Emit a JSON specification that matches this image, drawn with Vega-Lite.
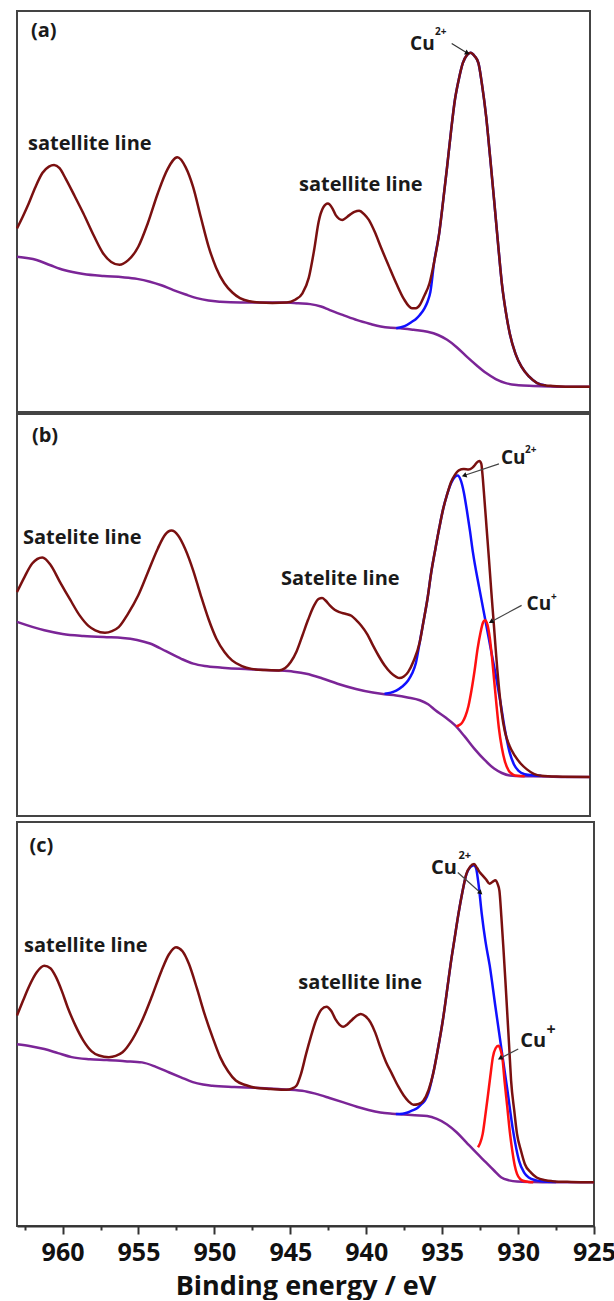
{
  "$schema": "https://vega.github.io/schema/vega-lite/v6.json",
  "padding": {"left": 11, "top": 10, "right": 2, "bottom": 0},
  "background": "white",
  "config": {
    "view": {"stroke": "#444444", "strokeWidth": 2},
    "font": "Open Sans",
    "text": {"font": "Open Sans"}
  },
  "datasets": {
    "a": [
      {"s":"env","E":963.0,"I":45.8},{"s":"env","E":962.6,"I":48.9},{"s":"env","E":962.23,"I":52.0},{"s":"env","E":961.8,"I":56.0},{"s":"env","E":961.33,"I":59.6},{"s":"env","E":960.9,"I":61.2},{"s":"env","E":960.56,"I":61.6},{"s":"env","E":960.2,"I":60.8},{"s":"env","E":959.8,"I":58.2},{"s":"env","E":959.2,"I":53.8},{"s":"env","E":958.63,"I":49.5},{"s":"env","E":957.95,"I":44.0},{"s":"env","E":957.34,"I":39.6},{"s":"env","E":956.8,"I":37.4},{"s":"env","E":956.26,"I":36.7},{"s":"env","E":955.7,"I":37.8},{"s":"env","E":955.02,"I":41.2},{"s":"env","E":954.4,"I":47.0},{"s":"env","E":953.74,"I":54.5},{"s":"env","E":953.1,"I":60.5},{"s":"env","E":952.45,"I":63.5},{"s":"env","E":951.9,"I":61.0},{"s":"env","E":951.42,"I":56.2},{"s":"env","E":950.9,"I":48.5},{"s":"env","E":950.39,"I":41.2},{"s":"env","E":949.9,"I":36.0},{"s":"env","E":949.36,"I":32.1},{"s":"env","E":948.83,"I":29.8},{"s":"env","E":948.33,"I":28.4},{"s":"env","E":947.7,"I":27.6},{"s":"env","E":947.05,"I":27.3},{"s":"env","E":946.2,"I":27.2},{"s":"env","E":945.25,"I":27.3},{"s":"env","E":944.7,"I":28.0},{"s":"env","E":944.22,"I":29.6},{"s":"env","E":943.8,"I":33.5},{"s":"env","E":943.45,"I":40.4},{"s":"env","E":943.15,"I":47.5},{"s":"env","E":942.85,"I":51.0},{"s":"env","E":942.55,"I":52.0},{"s":"env","E":942.25,"I":50.8},{"s":"env","E":942.03,"I":49.1},{"s":"env","E":941.6,"I":47.9},{"s":"env","E":941.13,"I":49.1},{"s":"env","E":940.8,"I":49.9},{"s":"env","E":940.49,"I":50.2},{"s":"env","E":940.15,"I":49.3},{"s":"env","E":939.85,"I":47.9},{"s":"env","E":939.45,"I":44.8},{"s":"env","E":939.07,"I":41.2},{"s":"env","E":938.55,"I":36.5},{"s":"env","E":938.05,"I":32.1},{"s":"env","E":937.55,"I":28.2},{"s":"env","E":937.02,"I":25.9},{"s":"env","E":936.75,"I":25.9},{"s":"env","E":936.5,"I":26.7},{"s":"env","E":936.2,"I":29.0},{"s":"env","E":935.86,"I":32.1},{"s":"env","E":935.55,"I":37.5},{"s":"env","E":935.22,"I":44.6},{"s":"env","E":934.95,"I":53.0},{"s":"env","E":934.7,"I":61.2},{"s":"env","E":934.45,"I":69.8},{"s":"env","E":934.19,"I":77.8},{"s":"env","E":933.93,"I":83.0},{"s":"env","E":933.67,"I":87.0},{"s":"env","E":933.4,"I":89.0},{"s":"env","E":933.16,"I":89.6},{"s":"env","E":932.9,"I":88.8},{"s":"env","E":932.64,"I":87.0},{"s":"env","E":932.4,"I":81.5},{"s":"env","E":932.13,"I":73.6},{"s":"env","E":931.87,"I":63.5},{"s":"env","E":931.61,"I":52.9},{"s":"env","E":931.35,"I":42.0},{"s":"env","E":931.1,"I":32.1},{"s":"env","E":930.84,"I":25.0},{"s":"env","E":930.58,"I":19.6},{"s":"env","E":930.2,"I":14.5},{"s":"env","E":929.81,"I":11.3},{"s":"env","E":929.3,"I":8.8},{"s":"env","E":928.78,"I":7.2},{"s":"env","E":928.2,"I":6.6},{"s":"env","E":927.75,"I":6.5},{"s":"env","E":926.5,"I":6.3},{"s":"env","E":925.3,"I":6.3},
      {"s":"bg","E":963.0,"I":38.7},{"s":"bg","E":961.71,"I":37.9},{"s":"bg","E":960.8,"I":36.6},{"s":"bg","E":959.91,"I":35.4},{"s":"bg","E":958.63,"I":34.4},{"s":"bg","E":957.3,"I":33.9},{"s":"bg","E":956.05,"I":33.6},{"s":"bg","E":955.1,"I":33.2},{"s":"bg","E":954.25,"I":32.5},{"s":"bg","E":953.5,"I":31.6},{"s":"bg","E":952.71,"I":30.4},{"s":"bg","E":951.9,"I":29.3},{"s":"bg","E":951.17,"I":28.4},{"s":"bg","E":950.4,"I":27.8},{"s":"bg","E":949.62,"I":27.5},{"s":"bg","E":948.3,"I":27.3},{"s":"bg","E":947.05,"I":27.3},{"s":"bg","E":945.25,"I":27.3},{"s":"bg","E":944.5,"I":27.1},{"s":"bg","E":943.71,"I":26.9},{"s":"bg","E":943.0,"I":26.3},{"s":"bg","E":942.42,"I":25.4},{"s":"bg","E":941.5,"I":24.1},{"s":"bg","E":940.62,"I":22.9},{"s":"bg","E":939.8,"I":22.0},{"s":"bg","E":939.07,"I":21.3},{"s":"bg","E":938.4,"I":21.0},{"s":"bg","E":937.79,"I":20.9},{"s":"bg","E":936.9,"I":20.5},{"s":"bg","E":935.99,"I":20.0},{"s":"bg","E":935.3,"I":19.2},{"s":"bg","E":934.7,"I":18.0},{"s":"bg","E":934.05,"I":16.1},{"s":"bg","E":933.41,"I":13.8},{"s":"bg","E":932.75,"I":11.6},{"s":"bg","E":932.13,"I":9.7},{"s":"bg","E":931.5,"I":8.2},{"s":"bg","E":930.84,"I":7.2},{"s":"bg","E":930.0,"I":6.7},{"s":"bg","E":929.04,"I":6.5},{"s":"bg","E":927.0,"I":6.3},{"s":"bg","E":925.3,"I":6.3},
      {"s":"cu2","E":938.05,"I":20.9},{"s":"cu2","E":937.5,"I":21.4},{"s":"cu2","E":937.02,"I":22.5},{"s":"cu2","E":936.75,"I":23.2},{"s":"cu2","E":936.5,"I":24.2},{"s":"cu2","E":936.2,"I":25.8},{"s":"cu2","E":935.99,"I":27.5},{"s":"cu2","E":935.8,"I":30.0},{"s":"cu2","E":935.55,"I":37.5},{"s":"cu2","E":935.22,"I":44.6},{"s":"cu2","E":934.95,"I":53.0},{"s":"cu2","E":934.7,"I":61.2},{"s":"cu2","E":934.45,"I":69.8},{"s":"cu2","E":934.19,"I":77.8},{"s":"cu2","E":933.93,"I":83.0},{"s":"cu2","E":933.67,"I":87.0},{"s":"cu2","E":933.4,"I":89.0},{"s":"cu2","E":933.16,"I":89.6},{"s":"cu2","E":932.9,"I":88.8},{"s":"cu2","E":932.64,"I":87.0},{"s":"cu2","E":932.4,"I":81.5},{"s":"cu2","E":932.13,"I":73.6},{"s":"cu2","E":931.87,"I":63.5},{"s":"cu2","E":931.61,"I":52.9},{"s":"cu2","E":931.35,"I":42.0},{"s":"cu2","E":931.1,"I":32.1},{"s":"cu2","E":930.84,"I":25.0},{"s":"cu2","E":930.58,"I":19.6},{"s":"cu2","E":930.2,"I":14.5},{"s":"cu2","E":929.81,"I":11.3},{"s":"cu2","E":929.3,"I":8.8},{"s":"cu2","E":928.78,"I":7.2},{"s":"cu2","E":928.2,"I":6.6}
    ],
    "aT": [
      {"E":962.08,"I":93.4,"t":"(a)","k":"lab"},
      {"E":962.28,"I":65.3,"t":"satellite line","k":"lab"},
      {"E":944.45,"I":55.1,"t":"satellite line","k":"lab"},
      {"E":937.14,"I":90.3,"t":"Cu","k":"cu"},
      {"E":935.5,"I":93.9,"t":"2+","k":"sup"}
    ],
    "aA": [{"E":934.4,"I":91.9,"E2":933.41,"I2":89.6}],
    "aH": [{"E":933.41,"I":89.6}],
    "b": [
      {"s":"env","E":963.0,"I":55.7},{"s":"env","E":962.5,"I":59.5},{"s":"env","E":962.0,"I":62.8},{"s":"env","E":961.33,"I":64.3},{"s":"env","E":960.8,"I":62.5},{"s":"env","E":960.17,"I":58.2},{"s":"env","E":959.5,"I":53.8},{"s":"env","E":958.88,"I":49.9},{"s":"env","E":958.3,"I":47.3},{"s":"env","E":957.85,"I":46.2},{"s":"env","E":957.21,"I":45.6},{"s":"env","E":956.75,"I":46.0},{"s":"env","E":956.31,"I":47.0},{"s":"env","E":955.7,"I":50.3},{"s":"env","E":955.02,"I":54.9},{"s":"env","E":954.4,"I":60.5},{"s":"env","E":953.74,"I":66.5},{"s":"env","E":953.25,"I":70.0},{"s":"env","E":952.84,"I":71.0},{"s":"env","E":952.4,"I":69.8},{"s":"env","E":951.94,"I":66.5},{"s":"env","E":951.4,"I":61.0},{"s":"env","E":950.91,"I":54.9},{"s":"env","E":950.4,"I":49.0},{"s":"env","E":949.88,"I":44.1},{"s":"env","E":949.35,"I":40.8},{"s":"env","E":948.85,"I":38.7},{"s":"env","E":948.2,"I":37.3},{"s":"env","E":947.56,"I":36.6},{"s":"env","E":946.7,"I":36.3},{"s":"env","E":945.76,"I":36.2},{"s":"env","E":945.35,"I":36.8},{"s":"env","E":944.99,"I":38.3},{"s":"env","E":944.6,"I":41.0},{"s":"env","E":944.22,"I":44.9},{"s":"env","E":943.85,"I":48.8},{"s":"env","E":943.45,"I":52.4},{"s":"env","E":943.15,"I":54.0},{"s":"env","E":942.93,"I":54.2},{"s":"env","E":942.7,"I":53.6},{"s":"env","E":942.42,"I":52.4},{"s":"env","E":942.1,"I":51.3},{"s":"env","E":941.78,"I":50.7},{"s":"env","E":941.4,"I":50.3},{"s":"env","E":941.0,"I":49.8},{"s":"env","E":940.7,"I":48.8},{"s":"env","E":940.36,"I":47.4},{"s":"env","E":939.95,"I":45.2},{"s":"env","E":939.59,"I":42.5},{"s":"env","E":939.2,"I":39.8},{"s":"env","E":938.82,"I":37.5},{"s":"env","E":938.4,"I":35.6},{"s":"env","E":938.05,"I":34.6},{"s":"env","E":937.84,"I":34.3},{"s":"env","E":937.55,"I":34.7},{"s":"env","E":937.27,"I":35.8},{"s":"env","E":936.9,"I":38.6},{"s":"env","E":936.5,"I":43.3},{"s":"env","E":936.25,"I":48.5},{"s":"env","E":935.99,"I":54.1},{"s":"env","E":935.75,"I":60.5},{"s":"env","E":935.47,"I":66.5},{"s":"env","E":935.2,"I":72.0},{"s":"env","E":934.96,"I":76.4},{"s":"env","E":934.7,"I":80.0},{"s":"env","E":934.44,"I":83.1},{"s":"env","E":934.2,"I":84.8},{"s":"env","E":933.93,"I":86.0},{"s":"env","E":933.6,"I":86.3},{"s":"env","E":933.29,"I":86.2},{"s":"env","E":933.05,"I":86.6},{"s":"env","E":932.9,"I":87.2},{"s":"env","E":932.75,"I":87.9},{"s":"env","E":932.58,"I":88.3},{"s":"env","E":932.45,"I":87.6},{"s":"env","E":932.39,"I":85.6},{"s":"env","E":932.25,"I":79.0},{"s":"env","E":932.1,"I":71.5},{"s":"env","E":931.95,"I":64.0},{"s":"env","E":931.8,"I":56.2},{"s":"env","E":931.65,"I":48.8},{"s":"env","E":931.5,"I":41.3},{"s":"env","E":931.4,"I":36.5},{"s":"env","E":931.28,"I":31.5},{"s":"env","E":931.12,"I":26.0},{"s":"env","E":930.9,"I":21.0},{"s":"env","E":930.6,"I":17.5},{"s":"env","E":930.25,"I":15.0},{"s":"env","E":929.85,"I":13.0},{"s":"env","E":929.45,"I":11.6},{"s":"env","E":929.0,"I":10.5},{"s":"env","E":928.5,"I":10.0},{"s":"env","E":927.5,"I":9.8},{"s":"env","E":925.3,"I":9.7},
      {"s":"bg","E":963.0,"I":48.3},{"s":"bg","E":961.2,"I":46.2},{"s":"bg","E":960.0,"I":45.3},{"s":"bg","E":958.63,"I":44.8},{"s":"bg","E":957.3,"I":44.5},{"s":"bg","E":956.05,"I":44.3},{"s":"bg","E":955.1,"I":43.8},{"s":"bg","E":954.25,"I":42.9},{"s":"bg","E":953.2,"I":41.0},{"s":"bg","E":952.19,"I":39.1},{"s":"bg","E":951.4,"I":37.9},{"s":"bg","E":950.65,"I":37.3},{"s":"bg","E":949.5,"I":36.9},{"s":"bg","E":948.33,"I":36.6},{"s":"bg","E":947.0,"I":36.4},{"s":"bg","E":945.76,"I":36.2},{"s":"bg","E":944.8,"I":35.9},{"s":"bg","E":943.96,"I":35.4},{"s":"bg","E":942.9,"I":34.2},{"s":"bg","E":941.91,"I":32.9},{"s":"bg","E":940.7,"I":31.6},{"s":"bg","E":939.59,"I":30.7},{"s":"bg","E":938.82,"I":30.3},{"s":"bg","E":938.05,"I":30.0},{"s":"bg","E":937.3,"I":29.5},{"s":"bg","E":936.5,"I":28.8},{"s":"bg","E":935.95,"I":27.8},{"s":"bg","E":935.47,"I":26.3},{"s":"bg","E":934.8,"I":24.5},{"s":"bg","E":934.19,"I":22.6},{"s":"bg","E":933.55,"I":19.8},{"s":"bg","E":932.9,"I":16.7},{"s":"bg","E":932.25,"I":14.0},{"s":"bg","E":931.61,"I":11.8},{"s":"bg","E":931.1,"I":10.7},{"s":"bg","E":930.58,"I":10.1},{"s":"bg","E":929.8,"I":9.9},{"s":"bg","E":929.04,"I":9.9},{"s":"bg","E":927.0,"I":9.7},{"s":"bg","E":925.3,"I":9.7},
      {"s":"cu2","E":938.82,"I":30.4},{"s":"cu2","E":938.4,"I":30.7},{"s":"cu2","E":938.05,"I":31.2},{"s":"cu2","E":937.65,"I":32.2},{"s":"cu2","E":937.27,"I":33.7},{"s":"cu2","E":937.0,"I":35.5},{"s":"cu2","E":936.76,"I":38.0},{"s":"cu2","E":936.5,"I":43.3},{"s":"cu2","E":936.25,"I":48.5},{"s":"cu2","E":935.99,"I":54.1},{"s":"cu2","E":935.75,"I":60.5},{"s":"cu2","E":935.47,"I":66.5},{"s":"cu2","E":935.2,"I":72.0},{"s":"cu2","E":934.96,"I":76.4},{"s":"cu2","E":934.7,"I":80.0},{"s":"cu2","E":934.44,"I":82.8},{"s":"cu2","E":934.2,"I":84.3},{"s":"cu2","E":934.01,"I":84.7},{"s":"cu2","E":933.8,"I":83.5},{"s":"cu2","E":933.6,"I":80.5},{"s":"cu2","E":933.4,"I":76.0},{"s":"cu2","E":933.2,"I":71.0},{"s":"cu2","E":933.0,"I":65.5},{"s":"cu2","E":932.6,"I":57.0},{"s":"cu2","E":932.2,"I":49.0},{"s":"cu2","E":931.8,"I":41.0},{"s":"cu2","E":931.5,"I":35.0},{"s":"cu2","E":931.2,"I":28.5},{"s":"cu2","E":930.9,"I":21.5},{"s":"cu2","E":930.6,"I":16.0},{"s":"cu2","E":930.3,"I":12.8},{"s":"cu2","E":930.0,"I":11.2},{"s":"cu2","E":929.6,"I":10.4},{"s":"cu2","E":929.0,"I":10.1},{"s":"cu2","E":928.5,"I":10.0},
      {"s":"cu1","E":934.1,"I":22.3},{"s":"cu1","E":933.9,"I":22.6},{"s":"cu1","E":933.7,"I":23.3},{"s":"cu1","E":933.5,"I":24.8},{"s":"cu1","E":933.3,"I":27.3},{"s":"cu1","E":933.1,"I":31.2},{"s":"cu1","E":932.9,"I":36.0},{"s":"cu1","E":932.7,"I":41.5},{"s":"cu1","E":932.5,"I":45.7},{"s":"cu1","E":932.35,"I":48.0},{"s":"cu1","E":932.21,"I":48.7},{"s":"cu1","E":932.05,"I":47.6},{"s":"cu1","E":931.9,"I":44.5},{"s":"cu1","E":931.75,"I":39.5},{"s":"cu1","E":931.6,"I":33.5},{"s":"cu1","E":931.45,"I":27.5},{"s":"cu1","E":931.3,"I":22.0},{"s":"cu1","E":931.1,"I":17.0},{"s":"cu1","E":930.9,"I":13.6},{"s":"cu1","E":930.65,"I":11.3},{"s":"cu1","E":930.4,"I":10.4},{"s":"cu1","E":930.1,"I":10.0},{"s":"cu1","E":929.6,"I":9.9}
    ],
    "bT": [
      {"E":962.02,"I":93.0,"t":"(b)","k":"lab"},
      {"E":962.61,"I":67.7,"t":"Satelite line","k":"lab"},
      {"E":945.63,"I":57.4,"t":"Satelite line","k":"lab"},
      {"E":931.16,"I":87.6,"t":"Cu","k":"cu"},
      {"E":929.58,"I":90.3,"t":"2+","k":"sup"},
      {"E":929.47,"I":51.2,"t":"Cu","k":"cu"},
      {"E":927.87,"I":53.7,"t":"+","k":"sup"}
    ],
    "bA": [
      {"E":931.29,"I":87.6,"E2":933.53,"I2":84.75},
      {"E":929.8,"I":52.4,"E2":931.77,"I2":48.4}
    ],
    "bH": [
      {"id":"cu2","E":933.53,"I":84.75},
      {"id":"cu1","E":931.77,"I":48.4}
    ],
    "c": [
      {"s":"env","E":963.0,"I":52.1},{"s":"env","E":962.6,"I":55.8},{"s":"env","E":962.23,"I":59.1},{"s":"env","E":961.7,"I":62.8},{"s":"env","E":961.2,"I":64.4},{"s":"env","E":960.8,"I":63.8},{"s":"env","E":960.43,"I":61.6},{"s":"env","E":960.05,"I":58.2},{"s":"env","E":959.66,"I":54.1},{"s":"env","E":959.15,"I":49.6},{"s":"env","E":958.63,"I":45.9},{"s":"env","E":958.1,"I":43.3},{"s":"env","E":957.6,"I":42.2},{"s":"env","E":956.95,"I":41.8},{"s":"env","E":956.5,"I":42.1},{"s":"env","E":956.05,"I":43.0},{"s":"env","E":955.4,"I":46.2},{"s":"env","E":954.77,"I":50.8},{"s":"env","E":954.1,"I":57.0},{"s":"env","E":953.48,"I":63.2},{"s":"env","E":953.0,"I":67.2},{"s":"env","E":952.53,"I":69.0},{"s":"env","E":952.1,"I":68.0},{"s":"env","E":951.68,"I":64.9},{"s":"env","E":951.15,"I":58.8},{"s":"env","E":950.65,"I":52.5},{"s":"env","E":950.1,"I":46.5},{"s":"env","E":949.62,"I":41.8},{"s":"env","E":949.1,"I":38.3},{"s":"env","E":948.59,"I":36.0},{"s":"env","E":947.95,"I":34.9},{"s":"env","E":947.31,"I":34.2},{"s":"env","E":946.3,"I":33.9},{"s":"env","E":945.25,"I":33.7},{"s":"env","E":944.9,"I":34.0},{"s":"env","E":944.6,"I":34.7},{"s":"env","E":944.3,"I":37.6},{"s":"env","E":943.96,"I":42.6},{"s":"env","E":943.65,"I":46.8},{"s":"env","E":943.32,"I":50.8},{"s":"env","E":942.95,"I":53.6},{"s":"env","E":942.62,"I":54.3},{"s":"env","E":942.3,"I":53.2},{"s":"env","E":942.03,"I":51.2},{"s":"env","E":941.75,"I":49.8},{"s":"env","E":941.52,"I":49.3},{"s":"env","E":941.25,"I":49.9},{"s":"env","E":941.0,"I":50.8},{"s":"env","E":940.65,"I":52.0},{"s":"env","E":940.36,"I":52.5},{"s":"env","E":940.05,"I":51.9},{"s":"env","E":939.72,"I":50.4},{"s":"env","E":939.4,"I":47.8},{"s":"env","E":939.07,"I":44.2},{"s":"env","E":938.7,"I":40.6},{"s":"env","E":938.3,"I":37.6},{"s":"env","E":937.9,"I":34.6},{"s":"env","E":937.53,"I":32.3},{"s":"env","E":937.2,"I":30.8},{"s":"env","E":936.89,"I":30.0},{"s":"env","E":936.55,"I":30.2},{"s":"env","E":936.24,"I":31.0},{"s":"env","E":935.9,"I":33.6},{"s":"env","E":935.6,"I":37.6},{"s":"env","E":935.28,"I":43.8},{"s":"env","E":934.96,"I":50.8},{"s":"env","E":934.7,"I":57.7},{"s":"env","E":934.44,"I":64.9},{"s":"env","E":934.18,"I":71.2},{"s":"env","E":933.93,"I":77.2},{"s":"env","E":933.67,"I":82.6},{"s":"env","E":933.41,"I":87.1},{"s":"env","E":933.15,"I":89.0},{"s":"env","E":932.9,"I":89.6},{"s":"env","E":932.7,"I":88.6},{"s":"env","E":932.51,"I":87.5},{"s":"env","E":932.3,"I":86.6},{"s":"env","E":932.13,"I":85.9},{"s":"env","E":931.87,"I":84.7},{"s":"env","E":931.68,"I":85.2},{"s":"env","E":931.49,"I":85.6},{"s":"env","E":931.36,"I":84.8},{"s":"env","E":931.23,"I":83.0},{"s":"env","E":931.1,"I":76.5},{"s":"env","E":930.97,"I":69.0},{"s":"env","E":930.84,"I":61.0},{"s":"env","E":930.71,"I":52.5},{"s":"env","E":930.58,"I":44.0},{"s":"env","E":930.46,"I":36.0},{"s":"env","E":930.25,"I":28.5},{"s":"env","E":930.07,"I":22.8},{"s":"env","E":929.8,"I":18.5},{"s":"env","E":929.55,"I":15.3},{"s":"env","E":929.15,"I":13.2},{"s":"env","E":928.78,"I":12.0},{"s":"env","E":928.2,"I":11.3},{"s":"env","E":927.75,"I":11.1},{"s":"env","E":926.5,"I":10.9},{"s":"env","E":925.0,"I":10.8},
      {"s":"bg","E":963.0,"I":45.0},{"s":"bg","E":962.1,"I":44.5},{"s":"bg","E":961.2,"I":43.8},{"s":"bg","E":960.3,"I":42.8},{"s":"bg","E":959.4,"I":41.8},{"s":"bg","E":958.2,"I":41.3},{"s":"bg","E":957.08,"I":41.1},{"s":"bg","E":955.9,"I":40.8},{"s":"bg","E":954.77,"I":40.5},{"s":"bg","E":953.85,"I":39.4},{"s":"bg","E":952.97,"I":38.0},{"s":"bg","E":952.2,"I":36.8},{"s":"bg","E":951.42,"I":35.6},{"s":"bg","E":950.75,"I":35.0},{"s":"bg","E":950.14,"I":34.7},{"s":"bg","E":948.7,"I":34.4},{"s":"bg","E":947.31,"I":34.2},{"s":"bg","E":945.8,"I":33.9},{"s":"bg","E":944.22,"I":33.5},{"s":"bg","E":943.3,"I":32.7},{"s":"bg","E":942.42,"I":31.7},{"s":"bg","E":941.5,"I":30.6},{"s":"bg","E":940.62,"I":29.5},{"s":"bg","E":939.85,"I":28.7},{"s":"bg","E":939.07,"I":28.1},{"s":"bg","E":938.3,"I":27.8},{"s":"bg","E":937.53,"I":27.6},{"s":"bg","E":936.8,"I":27.4},{"s":"bg","E":935.99,"I":27.2},{"s":"bg","E":935.35,"I":26.5},{"s":"bg","E":934.7,"I":25.2},{"s":"bg","E":934.05,"I":23.2},{"s":"bg","E":933.41,"I":20.7},{"s":"bg","E":932.77,"I":18.2},{"s":"bg","E":932.13,"I":15.8},{"s":"bg","E":931.6,"I":13.8},{"s":"bg","E":931.1,"I":12.0},{"s":"bg","E":930.6,"I":11.3},{"s":"bg","E":930.07,"I":11.0},{"s":"bg","E":929.0,"I":10.9},{"s":"bg","E":927.0,"I":10.8},{"s":"bg","E":925.0,"I":10.8},
      {"s":"cu2","E":938.05,"I":27.7},{"s":"cu2","E":937.6,"I":27.8},{"s":"cu2","E":937.27,"I":28.1},{"s":"cu2","E":936.95,"I":28.6},{"s":"cu2","E":936.63,"I":29.2},{"s":"cu2","E":936.35,"I":30.2},{"s":"cu2","E":936.11,"I":31.2},{"s":"cu2","E":935.9,"I":33.0},{"s":"cu2","E":935.6,"I":37.6},{"s":"cu2","E":935.28,"I":43.8},{"s":"cu2","E":934.96,"I":50.8},{"s":"cu2","E":934.7,"I":57.7},{"s":"cu2","E":934.44,"I":64.9},{"s":"cu2","E":934.18,"I":71.2},{"s":"cu2","E":933.93,"I":77.2},{"s":"cu2","E":933.67,"I":82.6},{"s":"cu2","E":933.41,"I":87.0},{"s":"cu2","E":933.15,"I":88.8},{"s":"cu2","E":932.9,"I":89.3},{"s":"cu2","E":932.77,"I":88.6},{"s":"cu2","E":932.6,"I":84.5},{"s":"cu2","E":932.39,"I":77.2},{"s":"cu2","E":932.15,"I":70.5},{"s":"cu2","E":931.87,"I":64.5},{"s":"cu2","E":931.49,"I":54.2},{"s":"cu2","E":931.1,"I":43.9},{"s":"cu2","E":930.71,"I":33.8},{"s":"cu2","E":930.33,"I":23.6},{"s":"cu2","E":929.94,"I":16.2},{"s":"cu2","E":929.6,"I":13.2},{"s":"cu2","E":929.3,"I":12.0},{"s":"cu2","E":928.8,"I":11.3},{"s":"cu2","E":928.27,"I":11.0},{"s":"cu2","E":927.5,"I":10.9},
      {"s":"cu1","E":932.64,"I":19.5},{"s":"cu1","E":932.5,"I":20.5},{"s":"cu1","E":932.33,"I":22.8},{"s":"cu1","E":932.17,"I":27.0},{"s":"cu1","E":932.0,"I":31.9},{"s":"cu1","E":931.83,"I":37.0},{"s":"cu1","E":931.66,"I":41.8},{"s":"cu1","E":931.48,"I":44.0},{"s":"cu1","E":931.3,"I":44.6},{"s":"cu1","E":931.17,"I":43.8},{"s":"cu1","E":931.04,"I":41.8},{"s":"cu1","E":930.88,"I":35.5},{"s":"cu1","E":930.71,"I":29.4},{"s":"cu1","E":930.55,"I":23.5},{"s":"cu1","E":930.38,"I":18.6},{"s":"cu1","E":930.22,"I":15.0},{"s":"cu1","E":930.07,"I":12.9},{"s":"cu1","E":929.85,"I":11.6},{"s":"cu1","E":929.68,"I":11.2},{"s":"cu1","E":929.3,"I":10.9},{"s":"cu1","E":929.0,"I":10.8}
    ],
    "cT": [
      {"E":962.18,"I":92.6,"t":"(c)","k":"lab"},
      {"E":962.54,"I":67.7,"t":"satellite line","k":"lab"},
      {"E":944.47,"I":58.7,"t":"satellite line","k":"lab"},
      {"E":935.73,"I":87.1,"t":"Cu","k":"cu"},
      {"E":933.92,"I":90.8,"t":"2+","k":"sup"},
      {"E":929.86,"I":44.3,"t":"Cu","k":"cu"},
      {"E":928.13,"I":47.3,"t":"+","k":"supbig"}
    ],
    "cA": [
      {"E":933.97,"I":87.5,"E2":932.51,"I2":82.6},
      {"E":929.99,"I":43.8,"E2":931.14,"I2":41.6}
    ],
    "cH": [
      {"id":"cu2","E":932.51,"I":82.6},
      {"id":"cu1","E":931.14,"I":41.6}
    ]
  },
  "spacing": 4,
  "vconcat": [
    {
      "spacing": 0,
      "vconcat": [
        {
          "width": 573,
          "height": 401,
          "encoding": {
            "x": {"field": "E", "type": "quantitative", "scale": {"domain": [925.3, 963], "reverse": true, "nice": false, "zero": false}, "axis": null},
            "y": {"field": "I", "type": "quantitative", "scale": {"domain": [0, 100], "nice": false, "zero": false}, "axis": null}
          },
          "layer": [
            {"data": {"name": "a"}, "transform": [{"filter": "datum.s === 'bg'"}], "mark": {"type": "line", "color": "#7b2597", "strokeWidth": 2.5, "interpolate": "monotone"}},
            {"data": {"name": "a"}, "transform": [{"filter": "datum.s === 'cu2'"}], "mark": {"type": "line", "color": "#1010ff", "strokeWidth": 2.5, "interpolate": "monotone"}},
            {"data": {"name": "a"}, "transform": [{"filter": "datum.s === 'env'"}], "mark": {"type": "line", "color": "#7a1010", "strokeWidth": 2.5, "interpolate": "monotone"}},
            {"data": {"name": "aT"}, "transform": [{"filter": "datum.k === 'lab'"}], "mark": {"type": "text", "align": "left", "baseline": "alphabetic", "fontSize": 20, "fontWeight": "bold", "color": "#1a1a1a"}, "encoding": {"text": {"field": "t"}}},
            {"data": {"name": "aT"}, "transform": [{"filter": "datum.k === 'cu'"}], "mark": {"type": "text", "align": "left", "baseline": "alphabetic", "fontSize": 19, "fontWeight": "bold", "color": "#1a1a1a"}, "encoding": {"text": {"field": "t"}}},
            {"data": {"name": "aT"}, "transform": [{"filter": "datum.k === 'sup'"}], "mark": {"type": "text", "align": "left", "baseline": "alphabetic", "fontSize": 10, "fontWeight": "bold", "color": "#1a1a1a"}, "encoding": {"text": {"field": "t"}}},
            {"data": {"name": "aA"}, "mark": {"type": "rule", "color": "#333333", "strokeWidth": 1.2}, "encoding": {"x2": {"field": "E2"}, "y2": {"field": "I2"}}},
            {"data": {"name": "aH"}, "mark": {"type": "point", "shape": "triangle", "filled": true, "size": 30, "angle": 117, "color": "#111111", "opacity": 1}}
          ]
        },
        {
          "width": 573,
          "height": 402,
          "encoding": {
            "x": {"field": "E", "type": "quantitative", "scale": {"domain": [925.3, 963], "reverse": true, "nice": false, "zero": false}, "axis": null},
            "y": {"field": "I", "type": "quantitative", "scale": {"domain": [0, 100], "nice": false, "zero": false}, "axis": null}
          },
          "layer": [
            {"data": {"name": "b"}, "transform": [{"filter": "datum.s === 'bg'"}], "mark": {"type": "line", "color": "#7b2597", "strokeWidth": 2.5, "interpolate": "monotone"}},
            {"data": {"name": "b"}, "transform": [{"filter": "datum.s === 'cu2'"}], "mark": {"type": "line", "color": "#1010ff", "strokeWidth": 2.5, "interpolate": "monotone"}},
            {"data": {"name": "b"}, "transform": [{"filter": "datum.s === 'cu1'"}], "mark": {"type": "line", "color": "#ff1010", "strokeWidth": 2.5, "interpolate": "monotone"}},
            {"data": {"name": "b"}, "transform": [{"filter": "datum.s === 'env'"}], "mark": {"type": "line", "color": "#7a1010", "strokeWidth": 2.5, "interpolate": "monotone"}},
            {"data": {"name": "bT"}, "transform": [{"filter": "datum.k === 'lab'"}], "mark": {"type": "text", "align": "left", "baseline": "alphabetic", "fontSize": 20, "fontWeight": "bold", "color": "#1a1a1a"}, "encoding": {"text": {"field": "t"}}},
            {"data": {"name": "bT"}, "transform": [{"filter": "datum.k === 'cu'"}], "mark": {"type": "text", "align": "left", "baseline": "alphabetic", "fontSize": 19, "fontWeight": "bold", "color": "#1a1a1a"}, "encoding": {"text": {"field": "t"}}},
            {"data": {"name": "bT"}, "transform": [{"filter": "datum.k === 'sup'"}], "mark": {"type": "text", "align": "left", "baseline": "alphabetic", "fontSize": 10, "fontWeight": "bold", "color": "#1a1a1a"}, "encoding": {"text": {"field": "t"}}},
            {"data": {"name": "bA"}, "mark": {"type": "rule", "color": "#444444", "strokeWidth": 1.2}, "encoding": {"x2": {"field": "E2"}, "y2": {"field": "I2"}}},
            {"data": {"name": "bH"}, "transform": [{"filter": "datum.id === 'cu2'"}], "mark": {"type": "point", "shape": "triangle", "filled": true, "size": 30, "angle": 251, "color": "#111111", "opacity": 1}},
            {"data": {"name": "bH"}, "transform": [{"filter": "datum.id === 'cu1'"}], "mark": {"type": "point", "shape": "triangle", "filled": true, "size": 30, "angle": 242, "color": "#111111", "opacity": 1}}
          ]
        }
      ]
    },
    {
      "width": 577,
      "height": 404,
      "encoding": {
        "x": {
          "field": "E", "type": "quantitative",
          "scale": {"domain": [925, 963], "reverse": true, "nice": false, "zero": false},
          "axis": {
            "values": [925, 927.5, 930, 932.5, 935, 937.5, 940, 942.5, 945, 947.5, 950, 952.5, 955, 957.5, 960, 962.5],
            "labelExpr": "datum.value % 5 === 0 ? datum.label : ''",
            "tickSize": {"condition": {"test": "datum.value % 5 === 0", "value": 8}, "value": 4},
            "tickWidth": 2, "tickColor": "#333333",
            "domainColor": "#333333", "domainWidth": 2,
            "grid": false,
            "labelFont": "Open Sans", "labelFontSize": 25, "labelFontWeight": "bold", "labelColor": "#111111",
            "labelPadding": 6, "labelOverlap": false, "labelFlush": false,
            "title": "Binding energy / eV",
            "titleFont": "Open Sans", "titleFontSize": 27, "titleFontWeight": "bold", "titleColor": "#111111",
            "titlePadding": 8
          }
        },
        "y": {"field": "I", "type": "quantitative", "scale": {"domain": [0, 100], "nice": false, "zero": false}, "axis": null}
      },
      "layer": [
        {"data": {"name": "c"}, "transform": [{"filter": "datum.s === 'bg'"}], "mark": {"type": "line", "color": "#7b2597", "strokeWidth": 2.5, "interpolate": "monotone"}},
        {"data": {"name": "c"}, "transform": [{"filter": "datum.s === 'cu2'"}], "mark": {"type": "line", "color": "#1010ff", "strokeWidth": 2.5, "interpolate": "monotone"}},
        {"data": {"name": "c"}, "transform": [{"filter": "datum.s === 'cu1'"}], "mark": {"type": "line", "color": "#ff1010", "strokeWidth": 2.5, "interpolate": "monotone"}},
        {"data": {"name": "c"}, "transform": [{"filter": "datum.s === 'env'"}], "mark": {"type": "line", "color": "#7a1010", "strokeWidth": 2.5, "interpolate": "monotone"}},
        {"data": {"name": "cT"}, "transform": [{"filter": "datum.k === 'lab'"}], "mark": {"type": "text", "align": "left", "baseline": "alphabetic", "fontSize": 20, "fontWeight": "bold", "color": "#1a1a1a"}, "encoding": {"text": {"field": "t"}}},
        {"data": {"name": "cT"}, "transform": [{"filter": "datum.k === 'cu'"}], "mark": {"type": "text", "align": "left", "baseline": "alphabetic", "fontSize": 20, "fontWeight": "bold", "color": "#1a1a1a"}, "encoding": {"text": {"field": "t"}}},
        {"data": {"name": "cT"}, "transform": [{"filter": "datum.k === 'sup'"}], "mark": {"type": "text", "align": "left", "baseline": "alphabetic", "fontSize": 11, "fontWeight": "bold", "color": "#1a1a1a"}, "encoding": {"text": {"field": "t"}}},
        {"data": {"name": "cT"}, "transform": [{"filter": "datum.k === 'supbig'"}], "mark": {"type": "text", "align": "left", "baseline": "alphabetic", "fontSize": 16, "fontWeight": "bold", "color": "#1a1a1a"}, "encoding": {"text": {"field": "t"}}},
        {"data": {"name": "cA"}, "mark": {"type": "rule", "color": "#444444", "strokeWidth": 1.2}, "encoding": {"x2": {"field": "E2"}, "y2": {"field": "I2"}}},
        {"data": {"name": "cH"}, "transform": [{"filter": "datum.id === 'cu2'"}], "mark": {"type": "point", "shape": "triangle", "filled": true, "size": 30, "angle": 132, "color": "#111111", "opacity": 1}},
        {"data": {"name": "cH"}, "transform": [{"filter": "datum.id === 'cu1'"}], "mark": {"type": "point", "shape": "triangle", "filled": true, "size": 30, "angle": 242, "color": "#111111", "opacity": 1}}
      ]
    }
  ]
}
